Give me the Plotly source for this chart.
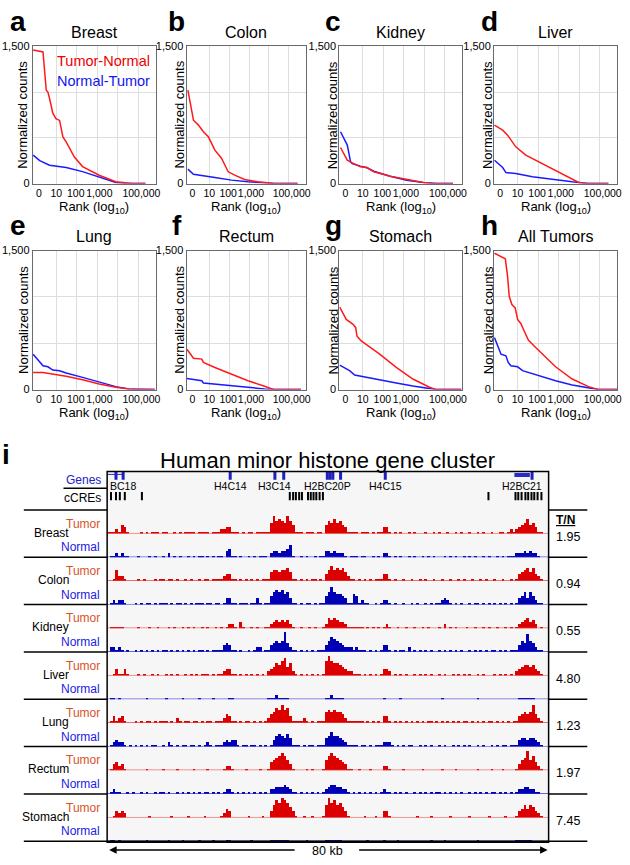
import plotly.graph_objects as go

W, H = 630, 865
FONT = "Liberation Sans, Arial, sans-serif"


def px(x):
    return x / W


def py(y):
    return 1 - y / H


# ---------------- panel a-h data (x = log10 rank, y = normalized counts) -------------
panel_titles = ["Breast", "Colon", "Kidney", "Liver", "Lung", "Rectum", "Stomach", "All Tumors"]
panel_letters = ["a", "b", "c", "d", "e", "f", "g", "h"]
rank_tick_vals = [0.15, 1, 1.95, 3.1, 5.15]
rank_tick_text = ["0", "10", "100", "1,000", "100,000"]
count_tick_vals = [0, 500, 1000, 1500]
count_tick_text = ["0", "", "", "1,500"]

breast_tn_x = [-0.13, 0.35, 0.51, 0.59, 0.67, 0.83, 0.98, 1.16, 1.32, 1.48, 1.88, 2.28, 3.09, 3.9, 4.7, 5.35]
breast_tn_y = [1460, 1440, 1020, 1000, 930, 770, 710, 690, 510, 455, 290, 185, 90, 20, 0, 0]
breast_nt_x = [-0.13, 0.19, 0.67, 1.48, 2.28, 3.09, 3.9, 4.38, 5.35]
breast_nt_y = [310, 250, 200, 175, 130, 75, 12, 0, 0]

colon_tn_x = [-0.08, 0.2, 0.45, 0.7, 0.95, 1.28, 1.62, 1.95, 2.28, 2.78, 3.45, 4.28, 5.45]
colon_tn_y = [1022, 693, 639, 566, 511, 365, 274, 128, 91, 44, 18, 0, 0]
colon_nt_x = [-0.08, 0.2, 1.28, 2.12, 2.95, 4.28, 5.45]
colon_nt_y = [157, 102, 66, 37, 18, 0, 0]

kidney_tn_x = [-0.09, 0.24, 0.48, 0.88, 1.2, 1.53, 2.33, 3.14, 3.95, 4.43, 5.4]
kidney_tn_y = [394, 255, 226, 182, 175, 128, 80, 44, 11, 0, 0]
kidney_nt_x = [-0.09, 0.24, 0.4, 0.48, 0.88, 1.2, 1.53, 2.33, 3.14, 3.95, 4.59, 5.4]
kidney_nt_y = [566, 420, 237, 219, 190, 172, 135, 80, 36, 11, 0, 0]

liver_tn_x = [-0.13, 0.27, 0.51, 0.91, 1.4, 1.88, 2.69, 3.49, 3.98, 4.3, 5.43]
liver_tn_y = [639, 584, 529, 401, 310, 255, 164, 73, 11, 0, 0]
liver_nt_x = [-0.13, 0.27, 0.43, 0.91, 1.72, 2.69, 3.66, 4.46, 5.43]
liver_nt_y = [255, 175, 120, 109, 73, 44, 18, 0, 0]

lung_tn_x = [-0.13, 0.35, 1.48, 2.28, 3.09, 3.9, 4.54, 5.0, 5.8]
lung_tn_y = [185, 185, 143, 107, 61, 25, 7, 0, 0]
lung_nt_x = [-0.13, 0.35, 0.59, 0.83, 1.16, 1.48, 2.28, 3.09, 3.9, 4.54, 5.8]
lung_nt_y = [382, 257, 246, 211, 204, 179, 132, 79, 32, 7, 0]

rectum_tn_x = [-0.13, 0.2, 0.62, 0.7, 1.28, 2.12, 2.95, 3.78, 4.28, 5.62]
rectum_tn_y = [436, 339, 329, 293, 239, 168, 96, 36, 0, 0]
rectum_nt_x = [-0.13, 0.62, 0.7, 1.28, 2.12, 2.95, 3.78, 4.28, 5.62]
rectum_nt_y = [121, 96, 71, 61, 43, 25, 7, 0, 0]

stomach_tn_x = [-0.13, 0.19, 0.52, 0.65, 0.71, 0.92, 1.33, 1.82, 2.63, 3.44, 4.25, 4.58, 5.8]
stomach_tn_y = [889, 757, 704, 668, 579, 525, 461, 382, 239, 114, 25, 0, 0]
stomach_nt_x = [-0.13, 0.19, 0.35, 0.6, 1.0, 1.33, 1.82, 2.63, 3.44, 4.25, 4.58, 5.8]
stomach_nt_y = [264, 221, 204, 157, 139, 132, 107, 71, 39, 7, 0, 0]

all_tn_x = [-0.13, 0.4, 0.51, 0.59, 0.72, 0.88, 1.0, 1.16, 1.32, 1.53, 1.88, 2.37, 2.85, 3.66, 4.46, 4.95, 5.9]
all_tn_y = [1471, 1411, 1221, 1007, 918, 882, 757, 711, 632, 532, 454, 346, 246, 114, 32, 0, 0]
all_nt_x = [-0.13, 0.03, 0.19, 0.43, 0.54, 0.67, 1.0, 1.24, 2.04, 2.85, 3.66, 4.46, 4.95, 5.9]
all_nt_y = [561, 471, 382, 364, 293, 257, 246, 204, 150, 96, 50, 14, 0, 0]

panel_series = [
    (breast_tn_x, breast_tn_y, breast_nt_x, breast_nt_y),
    (colon_tn_x, colon_tn_y, colon_nt_x, colon_nt_y),
    (kidney_tn_x, kidney_tn_y, kidney_nt_x, kidney_nt_y),
    (liver_tn_x, liver_tn_y, liver_nt_x, liver_nt_y),
    (lung_tn_x, lung_tn_y, lung_nt_x, lung_nt_y),
    (rectum_tn_x, rectum_tn_y, rectum_nt_x, rectum_nt_y),
    (stomach_tn_x, stomach_tn_y, stomach_nt_x, stomach_nt_y),
    (all_tn_x, all_tn_y, all_nt_x, all_nt_y),
]

# ---------------- panel i data: signal levels in 0.5 kb bins (160 bins over 80 kb) ----
track_tissues = ["Breast", "Colon", "Kidney", "Liver", "Lung", "Rectum", "Stomach"]
tn_ratios = ["1.95", "0.94", "0.55", "4.80", "1.23", "1.97", "7.45"]

breast_tumor = ("1112143100", "0010101110", "1100101011", "1101111011", "1223311101", "0110111115",
                "8676586411", "1011101104", "6575643111", "1011101011", "3310101001", "0100010010",
                "1001001010", "0100101001", "0011012123", "4574531100")
breast_normal = ("0112121100", "0100010100", "1020101001", "0101101010", "1103411010", "0101011102",
                 "3323346100", "1010010113", "3232221011", "1011001010", "2210101001", "0100101010",
                 "0010101001", "0101001010", "0101011122", "2323221000")
colon_tumor = ("0015221000", "0101000101", "1011010010", "1001011011", "1123311010", "1010101114",
               "5545564110", "1010110103", "5756564211", "0101010111", "3310100100", "1001010010",
               "0100100101", "0010010100", "1001001013", "4564632100")
colon_normal = ("0121221000", "1010110101", "1101011010", "1011101101", "1013311011", "1011310114",
                "6767563110", "1011010114", "6865543115", "4121100101", "2210100100", "1010010101",
                "1232101010", "0101101010", "1010101013", "4636421100")
kidney_tumor = ("0111110000", "0100010010", "0010100101", "0100101001", "0101221031", "0010100112",
                "3434342100", "1001010012", "5454332111", "1110101010", "1210010010", "0100101000",
                "1020101000", "1001001010", "0100101012", "3453420100")
kidney_normal = ("0221210100", "1010101010", "1101010101", "0101101011", "1134311010", "0101220113",
                 "4545942110", "1010101113", "5765432221", "2111010101", "3310101102", "0101010100",
                 "1010101010", "0101010101", "1010101113", "5485421100")
liver_tumor = ("0013113100", "0101001010", "0101010010", "1010111010", "1123311010", "1010101023",
               "4657846210", "1010101017", "9766543221", "1101010101", "3320101010", "0101010100",
               "1010010101", "0100101000", "1010101023", "4554532100")
liver_normal = ("0110100000", "0000100000", "0100000100", "0001000010", "0000110000", "0000000011",
                "1211110000", "0000000001", "1211110000", "0000000000", "1000001000", "0000000000",
                "0100000000", "0000100000", "0000000001", "1111100000")
lung_tumor = ("0131231000", "1010110101", "1101021011", "0110101101", "1124311010", "1101010124",
              "5768673111", "1210101115", "6565542111", "1110101010", "3310101010", "1010101101",
              "0101010101", "1010101011", "0101010113", "4545842100")
lung_normal = ("0123221010", "1010101100", "1021010110", "1101012101", "1123233101", "1011010101",
               "3565464111", "0101101114", "5755432111", "1011010111", "2221010101", "1001010100",
               "1010010101", "0100101001", "0101101113", "4434432100")
rectum_tumor = ("0134231000", "0000100000", "1000010000", "0100001000", "0012210000", "1000010014",
                "5678753100", "0010100015", "7876543110", "0100010000", "2210000100", "0000100000",
                "0100001000", "0000100001", "0001000013", "5695742100")
rectum_normal = ("0121100101", "0010100101", "1010010101", "0101011010", "1012210101", "0101010102",
                 "2333432110", "1010101012", "3443322101", "0101010101", "2110101010", "0101010101",
                 "1010101010", "0101010101", "1010101012", "2332211000")
stomach_tumor = ("0013232000", "0000010000", "0001000001", "0000010000", "0124300000", "0100001003",
                 "6879875310", "0100100016", "9786753100", "0001000100", "3310000000", "0010000100",
                 "0000100000", "0100000010", "0000100013", "4646532100")
stomach_normal = ("0110100000", "0000100000", "0010000100", "0001000010", "0001100000", "0010000001",
                  "1111110000", "0010000001", "1111100000", "0000100000", "1000010000", "0000000100",
                  "0010000000", "0000100000", "0000000011", "1111000000")

track_levels = [
    (breast_tumor, breast_normal), (colon_tumor, colon_normal), (kidney_tumor, kidney_normal),
    (liver_tumor, liver_normal), (lung_tumor, lung_normal), (rectum_tumor, rectum_normal),
    (stomach_tumor, stomach_normal),
]

gene_mark_kb = [1.6, 2.9, 22.3, 30.4, 32.0, 39.9, 40.4, 40.9, 42.3, 50.4, 77.0]
gene_body_h2bc18 = [0.0, 2.9]
gene_body_h2bc21 = [73.8, 76.6]
gene_labels = ["H4C14", "H3C14", "H2BC20P", "H4C15", "H2BC21"]
gene_label_kb = [22.3, 30.4, 40.0, 50.4, 75.1]
ccre_kb = [0.7, 1.6, 2.3, 3.2, 6.3, 33.1, 33.7, 34.2, 34.8, 35.3, 36.4, 36.9, 37.4, 37.9, 38.5,
           39.1, 69.1, 74.0, 74.5, 75.1, 75.8, 76.3, 76.9, 77.4, 78.0, 78.7]

RED = "#ff1a1a"
BLUE = "#1a1aff"
TRK_RED = "#dd0000"
TRK_BLUE = "#0000b4"

fig = go.Figure()
layout = dict(width=W, height=H, margin=dict(l=0, r=0, t=0, b=0), autosize=False,
              paper_bgcolor="white", plot_bgcolor="rgba(0,0,0,0)", showlegend=False,
              font=dict(family=FONT, color="black"), barmode="overlay", bargap=0)
annotations = []
shapes = []

# ---------------- panels a-h ----------------
cols = [(33, 157), (188, 308), (342, 466), (498, 622)]
rows = [(41, 180), (248, 389)]
ytitle_off = [10, 7, 6, 6]
letter_x = [18, 178, 336, 493]
for k, (tx, ty, nx, ny) in enumerate(panel_series):
    r, c = divmod(k, 4)
    x0, x1 = cols[c]
    y0, y1 = rows[r]
    i = k + 1
    xa = "x" if i == 1 else f"x{i}"
    ya = "y" if i == 1 else f"y{i}"
    fig.add_trace(go.Scatter(x=nx, y=ny, mode="lines", line=dict(color=BLUE, width=1.5),
                             xaxis=xa, yaxis=ya, hoverinfo="skip"))
    fig.add_trace(go.Scatter(x=tx, y=ty, mode="lines", line=dict(color=RED, width=1.5),
                             xaxis=xa, yaxis=ya, hoverinfo="skip"))
    layout["xaxis" if i == 1 else f"xaxis{i}"] = dict(
        domain=[px(x0), px(x1)], range=[-0.15, 5.85], anchor=ya,
        tickmode="array", tickvals=rank_tick_vals, ticktext=rank_tick_text, tickangle=0,
        showgrid=False, zeroline=False, ticks="",
        minor=dict(tickmode="array", tickvals=[1, 2, 3, 4, 5], showgrid=True,
                   gridcolor="#dedede", gridwidth=1, ticks=""),
        showline=True, mirror=True, linecolor="#6a6a6a", linewidth=1,
        tickfont=dict(size=10.5, family=FONT, color="black"), fixedrange=True)
    layout["yaxis" if i == 1 else f"yaxis{i}"] = dict(
        domain=[py(y1), py(y0)], range=[0, 1500], anchor=xa,
        tickmode="array", tickvals=count_tick_vals, ticktext=count_tick_text,
        showgrid=True, gridcolor="#dedede", zeroline=False, ticks="",
        showline=True, mirror=True, linecolor="#6a6a6a", linewidth=1,
        tickfont=dict(size=11, family=FONT, color="black"), fixedrange=True)
    cx = (x0 + x1) / 2
    annotations.append(dict(text=panel_titles[k], x=px(cx), y=py(y0 - 14), xref="paper", yref="paper",
                            showarrow=False, font=dict(size=16, family=FONT), xanchor="center", yanchor="middle"))
    annotations.append(dict(text=f"<b>{panel_letters[k]}</b>", x=px(letter_x[c]), y=py(y0 - 25),
                            xref="paper", yref="paper", showarrow=False, font=dict(size=28, family=FONT),
                            xanchor="center", yanchor="middle"))
    annotations.append(dict(text="Normalized counts", x=px(x0 - ytitle_off[c]), y=py((y0 + y1) / 2),
                            xref="paper", yref="paper", showarrow=False, textangle=-90,
                            font=dict(size=13, family=FONT), xanchor="center", yanchor="middle"))
    annotations.append(dict(text="Rank (log<sub>10</sub>)", x=px(cx), y=py(y1 + 24),
                            xref="paper", yref="paper", showarrow=False,
                            font=dict(size=13, family=FONT), xanchor="center", yanchor="middle"))

annotations.append(dict(text="Tumor-Normal", x=px(55), y=py(56), xref="paper", yref="paper",
                        showarrow=False, xanchor="left", yanchor="middle",
                        font=dict(size=14.5, family=FONT, color="#ee0000")))
annotations.append(dict(text="Normal-Tumor", x=px(55), y=py(76), xref="paper", yref="paper",
                        showarrow=False, xanchor="left", yanchor="middle",
                        font=dict(size=14.5, family=FONT, color="#1515ee")))

# ---------------- panel i ----------------
FX0, FX1, FY0, FY1 = 108, 553, 472, 848
annotations.append(dict(text="<b>i</b>", x=px(6), y=py(455), xref="paper", yref="paper", showarrow=False,
                        font=dict(size=28, family=FONT), xanchor="center", yanchor="middle"))
annotations.append(dict(text="Human minor histone gene cluster", x=px(330), y=py(461), xref="paper",
                        yref="paper", showarrow=False, font=dict(size=22, family=FONT),
                        xanchor="center", yanchor="middle"))

shapes.append(dict(type="rect", xref="paper", yref="paper", x0=px(FX0), x1=px(FX1), y0=py(FY1), y1=py(FY0),
                   fillcolor="#f6f6f6", line=dict(width=0), layer="below"))

layout["xaxis9"] = dict(domain=[px(FX0), px(FX1)], range=[0, 80], anchor="y10", visible=False, fixedrange=True)
# gene / cCRE rows axis (units = px below frame top)
layout["yaxis24"] = dict(domain=[py(509), py(FY0)], range=[37, 0], anchor="x9", visible=False, fixedrange=True)

bins_kb = [0.25 + 0.5 * b for b in range(160)]

for k, (tum, nor) in enumerate(track_levels):
    bt = 511 + 48 * k
    for j, (grp, col, lcol) in enumerate([(tum, TRK_RED, "#e23a3a"), (nor, TRK_BLUE, "#2a2ad0")]):
        n = 10 + 2 * k + j
        s = "".join(grp)[:160].ljust(160, "0")
        levels = [int(ch) for ch in s]
        top = bt + 24 * j
        layout[f"yaxis{n}"] = dict(domain=[py(top + 24), py(top)], range=[0, 11], anchor="x9",
                                   visible=False, fixedrange=True)
        fig.add_trace(go.Bar(x=bins_kb, y=levels, width=0.5, marker=dict(color=col, line=dict(width=0)),
                             xaxis="x9", yaxis=f"y{n}", hoverinfo="skip"))
        shapes.append(dict(type="line", xref="x9", yref=f"y{n}", x0=0, x1=80, y0=0.05, y1=0.05,
                           line=dict(color=lcol, width=1)))
    annotations.append(dict(text="Tumor", x=px(103), y=py(bt + 14), xref="paper", yref="paper",
                            showarrow=False, xanchor="right", yanchor="middle",
                            font=dict(size=12, family=FONT, color="#d9531e")))
    annotations.append(dict(text=track_tissues[k], x=px(72), y=py(bt + 23), xref="paper", yref="paper",
                            showarrow=False, xanchor="right", yanchor="middle",
                            font=dict(size=12, family=FONT, color="black")))
    annotations.append(dict(text="Normal", x=px(103), y=py(bt + 38), xref="paper", yref="paper",
                            showarrow=False, xanchor="right", yanchor="middle",
                            font=dict(size=12, family=FONT, color="#2020e6")))
    annotations.append(dict(text=tn_ratios[k], x=px(558), y=py(bt + 27), xref="paper", yref="paper",
                            showarrow=False, xanchor="left", yanchor="middle",
                            font=dict(size=12.5, family=FONT, color="black")))
    # separators
    shapes.append(dict(type="line", xref="paper", yref="paper", x0=px(24), x1=px(FX0), y0=py(bt), y1=py(bt),
                       line=dict(color="black", width=1.5)))
    shapes.append(dict(type="line", xref="paper", yref="paper", x0=px(FX1), x1=px(592), y0=py(bt), y1=py(bt),
                       line=dict(color="black", width=1.5)))
shapes.append(dict(type="line", xref="paper", yref="paper", x0=px(24), x1=px(592), y0=py(847), y1=py(847),
                   line=dict(color="black", width=1.5)))
shapes.append(dict(type="line", xref="paper", yref="paper", x0=px(64), x1=px(FX0), y0=py(489), y1=py(489),
                   line=dict(color="black", width=1.5)))
shapes.append(dict(type="rect", xref="paper", yref="paper", x0=px(FX0), x1=px(FX1), y0=py(FY1), y1=py(FY0),
                   line=dict(color="black", width=1.5), fillcolor="rgba(0,0,0,0)", layer="above"))

# genes
fig.add_trace(go.Scatter(x=gene_body_h2bc18, y=[3, 3], mode="lines", line=dict(color="#2a2acc", width=1),
                         xaxis="x9", yaxis="y24", hoverinfo="skip"))
fig.add_trace(go.Scatter(x=gene_body_h2bc21, y=[3.5, 3.5], mode="lines", line=dict(color="#2a2acc", width=4),
                         xaxis="x9", yaxis="y24", hoverinfo="skip"))
fig.add_trace(go.Scatter(x=gene_mark_kb, y=[3.5] * len(gene_mark_kb), mode="markers",
                         marker=dict(symbol="line-ns", size=7, line=dict(width=3, color="#1f1fbf")),
                         xaxis="x9", yaxis="y24", hoverinfo="skip"))
fig.add_trace(go.Scatter(x=ccre_kb, y=[25] * len(ccre_kb), mode="markers",
                         marker=dict(symbol="line-ns", size=6, line=dict(width=2, color="black")),
                         xaxis="x9", yaxis="y24", hoverinfo="skip"))
for lab, kb in zip(gene_labels, gene_label_kb):
    annotations.append(dict(text=lab, x=kb, y=15, xref="x9", yref="y24", showarrow=False,
                            xanchor="center", yanchor="middle", font=dict(size=10.5, family=FONT)))
annotations.append(dict(text="BC18", x=0.1, y=15, xref="x9", yref="y24", showarrow=False,
                        xanchor="left", yanchor="middle", font=dict(size=10.5, family=FONT)))
annotations.append(dict(text="Genes", x=px(104), y=py(481), xref="paper", yref="paper", showarrow=False,
                        xanchor="right", yanchor="middle", font=dict(size=12, family=FONT, color="#2020cc")))
annotations.append(dict(text="cCREs", x=px(104), y=py(499), xref="paper", yref="paper", showarrow=False,
                        xanchor="right", yanchor="middle", font=dict(size=12, family=FONT, color="black")))
annotations.append(dict(text="<b><u>T/N</u></b>", x=px(558), y=py(521), xref="paper", yref="paper",
                        showarrow=False, xanchor="left", yanchor="middle", font=dict(size=12, family=FONT)))

# scale arrow
annotations.append(dict(text="", x=px(110), y=py(856), xref="paper", yref="paper", showarrow=True,
                        ax=187, ay=0, arrowhead=2, arrowsize=1, arrowwidth=1.5, arrowcolor="black"))
annotations.append(dict(text="", x=px(552), y=py(856), xref="paper", yref="paper", showarrow=True,
                        ax=-190, ay=0, arrowhead=2, arrowsize=1, arrowwidth=1.5, arrowcolor="black"))
annotations.append(dict(text="80 kb", x=px(330), y=py(857), xref="paper", yref="paper", showarrow=False,
                        xanchor="center", yanchor="middle", font=dict(size=12.5, family=FONT)))

layout["annotations"] = annotations
layout["shapes"] = shapes
fig.update_layout(**layout)
fig.write_html("out.html", config={"displayModeBar": False},
               post_script="document.body.style.margin='0px';")
